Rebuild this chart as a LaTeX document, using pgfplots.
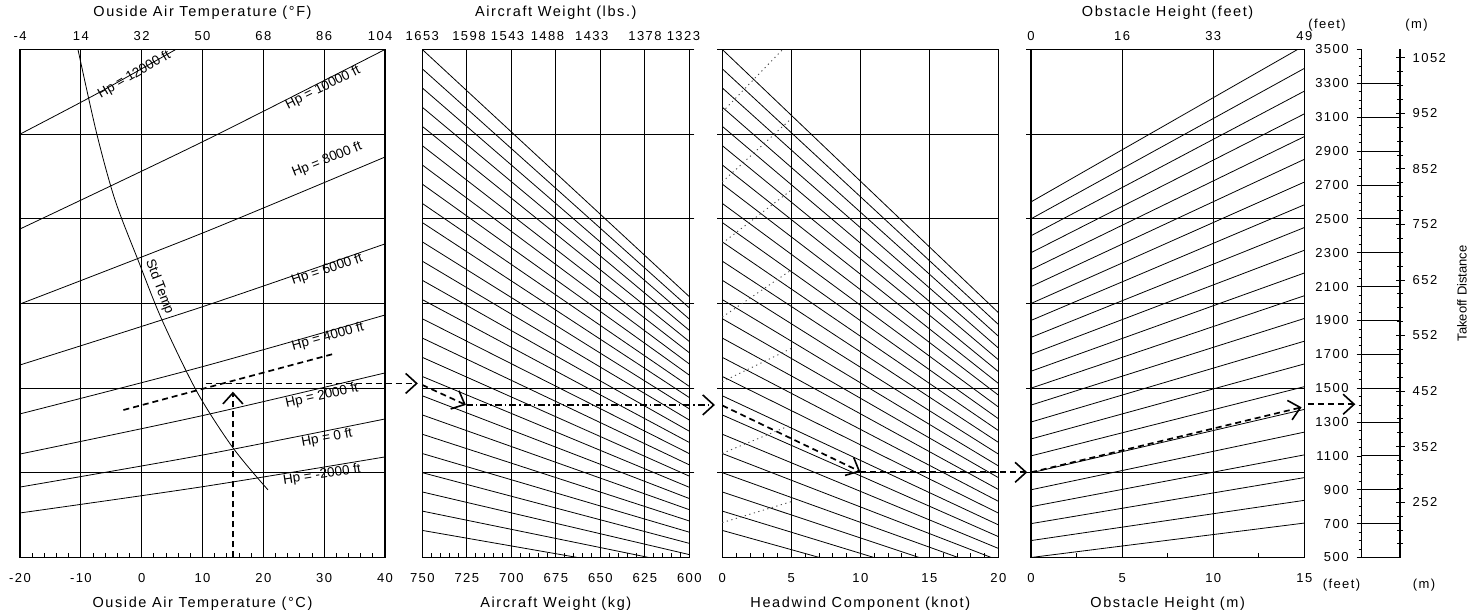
\documentclass[border=0pt]{standalone}
\usepackage{pgfplots}
\pgfplotsset{compat=1.18}
\usetikzlibrary{arrows.meta}
\usepackage{fontspec}
\setmainfont{Liberation Sans}
\newfontfamily\spaced[LetterSpace=11]{Liberation Sans}
\newcommand\tickfont{\spaced\fontsize{13bp}{15bp}\selectfont}
\newcommand\labfont{\spaced\fontsize{14.5bp}{16bp}\selectfont}
\newcommand\curvefont{\rmfamily\fontsize{13.5bp}{15bp}\selectfont}

\tikzset{hplab/.style={font=\curvefont, inner sep=0pt}}
\pgfplotsset{
  panel/.style={
    scale only axis, anchor=south west, height=508bp,
    ymin=500, ymax=3500, clip=false,
    axis line style={black, line width=1.2bp},
    grid style={black, line width=0.75bp},
    xmajorgrids, ymajorgrids,
    ytick={1000,1500,2000,2500,3000}, yticklabels={},
    major tick length=0pt, minor tick length=4.5bp,
    minor tick style={black, line width=0.7bp},
    xtick pos=left,
    tick align=inside,
    xticklabel style={font=\tickfont, anchor=base, yshift=-25bp, inner sep=0pt},
    xlabel style={font=\labfont, at={(rel axis cs:0.5,0)}, anchor=base, yshift=-50bp, inner sep=0pt},
  },
  outticks/.style={
    extra y ticks={1000,1500,2000,2500,3000,3500}, extra y tick labels={},
    extra y tick style={grid=none, tick align=outside, major tick length=5bp, ytick pos=#1,
      tick style={black, line width=0.7bp}},
  },
  topax/.style={
    scale only axis, anchor=south west, height=508bp, ymin=0, ymax=1,
    axis x line*=top, hide y axis, axis line style={black, line width=1.2bp},
    major tick length=0pt,
    xticklabel style={font=\tickfont, anchor=base, yshift=9bp, inner sep=0pt},
    xlabel style={font=\labfont, at={(rel axis cs:0.5,1)}, anchor=base, yshift=32.5bp, inner sep=0pt},
  },
  guide/.style={black, line width=0.8bp},
  dotl/.style={black!70, line width=0.9bp, dash pattern=on 1.2bp off 3.5bp},
  dashl/.style={black, line width=1.7bp, dash pattern=on 6bp off 4bp},
  dasharr/.style={dashl, -{Straight Barb[length=11bp, width=20bp, line width=1.6bp]}},
  dashdotarr/.style={black, line width=1.5bp, dash pattern=on 7bp off 3bp on 1.5bp off 3bp, -{Straight Barb[length=11bp, width=20bp, line width=1.6bp]}},
}

\begin{document}
\begin{tikzpicture}[x=1bp,y=1bp]
\useasboundingbox (0,0) rectangle (1468bp,615bp);

%%%%%%%%%%%%%%%% Panel 1: OAT %%%%%%%%%%%%%%%%
\begin{axis}[panel, at={(20bp,57.5bp)}, width=365bp,
  xmin=-20, xmax=40, xtick={-20,-10,0,10,20,30,40},
  xticklabels={-20,-10,0,10,20,30,40}, minor x tick num=4,
  xlabel={Ouside Air Temperature (°C)}]
\addplot[guide, smooth] coordinates {(-20,763)(10,918)(40,1094)};
\addplot[guide, smooth] coordinates {(-20,916)(10,1105)(40,1318)};
\addplot[guide, smooth] coordinates {(-20,1111)(10,1338)(40,1590)};
\addplot[guide, smooth] coordinates {(-20,1348)(10,1627)(40,1932)};
\addplot[guide, smooth] coordinates {(-20,1637)(10,1981)(40,2352)};
\addplot[guide, smooth] coordinates {(-20,1997)(10,2416)(40,2865)};
\addplot[guide, smooth] coordinates {(-20,2440)(10,2955)(40,3500)};
\addplot[guide, smooth] coordinates {(-20,3000)(-7.2,3242)(5.6,3500)};
% standard temperature
\addplot[guide, smooth] coordinates {(-10.47,3500)(-7.4,3005)(-4.38,2611)(-0.6,2257)(3.34,1903)(9.10,1478)(15.02,1147)(20.77,899)};
\node[hplab, rotate=30] at (axis cs:-1.2,3350) {Hp = 12000 ft};
\node[hplab, rotate=26.3] at (axis cs:29.81,3273) {Hp = 10000 ft};
\node[hplab, rotate=21.9] at (axis cs:30.47,2848) {Hp = 8000 ft};
\node[hplab, rotate=18.3] at (axis cs:30.47,2198) {Hp = 6000 ft};
\node[hplab, rotate=15.2] at (axis cs:30.63,1802) {Hp = 4000 ft};
\node[hplab, rotate=12.5] at (axis cs:29.65,1454) {Hp = 2000 ft};
\node[hplab, rotate=10.6] at (axis cs:30.47,1206) {Hp = 0 ft};
\node[hplab, rotate=8.7] at (axis cs:29.65,987) {Hp = -2000 ft};
\node[hplab, rotate=-69] at (axis cs:2.9,2098) {Std Temp};
% example path
\addplot[dasharr] coordinates {(15,500)(15,1479)};
\addplot[dashl] coordinates {(-3,1371)(31.5,1702)};
\addplot[dasharr] coordinates {(10.5,1528)(45.4,1528)};
\end{axis}
\begin{axis}[topax, at={(20bp,57.5bp)}, width=365bp, xmin=-20, xmax=40,
  xtick={-20,-10,0,10,20,30,39.2}, xticklabels={-4,14,32,50,68,86,104},
  xlabel={Ouside Air Temperature (°F)}]
\end{axis}

%%%%%%%%%%%%%%%% Panel 2: weight %%%%%%%%%%%%%%%%
\begin{axis}[panel, outticks=right, at={(422.3bp,57.5bp)}, width=267bp,
  xmin=600, xmax=750, x dir=reverse, xtick={600,625,650,675,700,725,750},
  xticklabels={600,625,650,675,700,725,750}, minor x tick num=4,
  xlabel={Aircraft Weight (kg)}]
\addplot[guide] coordinates {(750,660)(662.8,500)};
\addplot[guide] coordinates {(750,774)(622.7,500)};
\addplot[guide] coordinates {(750,887)(600,517.1)};
\addplot[guide] coordinates {(750,1001)(600,583.6)};
\addplot[guide] coordinates {(750,1114)(600,649.5)};
\addplot[guide] coordinates {(750,1228)(600,715.9)};
\addplot[guide] coordinates {(750,1342)(600,782.4)};
\addplot[guide] coordinates {(750,1455)(600,848.3)};
\addplot[guide] coordinates {(750,1569)(600,914.7)};
\addplot[guide] coordinates {(750,1682)(600,980.6)};
\addplot[guide] coordinates {(750,1796)(600,1047.1)};
\addplot[guide] coordinates {(750,1910)(600,1113.5)};
\addplot[guide] coordinates {(750,2023)(600,1179.4)};
\addplot[guide] coordinates {(750,2137)(600,1245.9)};
\addplot[guide] coordinates {(750,2250)(600,1311.8)};
\addplot[guide] coordinates {(750,2364)(600,1378.2)};
\addplot[guide] coordinates {(750,2478)(600,1444.7)};
\addplot[guide] coordinates {(750,2591)(600,1510.6)};
\addplot[guide] coordinates {(750,2705)(600,1577.0)};
\addplot[guide] coordinates {(750,2818)(600,1642.9)};
\addplot[guide] coordinates {(750,2932)(600,1709.4)};
\addplot[guide] coordinates {(750,3046)(600,1775.8)};
\addplot[guide] coordinates {(750,3159)(600,1841.7)};
\addplot[guide] coordinates {(750,3273)(600,1908.2)};
\addplot[guide] coordinates {(750,3386)(600,1974.0)};
\addplot[guide] coordinates {(750,3500)(600,2040.5)};
\addplot[dasharr] coordinates {(750,1519)(725.5,1401)};
\addplot[dashdotarr] coordinates {(725.5,1401)(585.6,1401)};
\end{axis}
\begin{axis}[topax, at={(422.3bp,57.5bp)}, width=267bp, xmin=600, xmax=750, x dir=reverse,
  xtick={603.3,624.9,654.8,679.7,702.1,723.8,750},
  xticklabels={1323,1378,1433,1488,1543,1598,1653},
  xlabel={Aircraft Weight (lbs.)}]
\end{axis}

%%%%%%%%%%%%%%%% Panel 3: headwind %%%%%%%%%%%%%%%%
\begin{axis}[panel, outticks=left, at={(722.3bp,57.5bp)}, width=276bp,
  xmin=0, xmax=20, xtick={0,5,10,15,20},
  xticklabels={0,5,10,15,20}, minor x tick num=4,
  xlabel={Headwind Component (knot)}]
\addplot[guide] coordinates {(0,660)(7.04,500)};
\addplot[guide] coordinates {(0,774)(10.99,500)};
\addplot[guide] coordinates {(0,887)(14.27,500)};
\addplot[guide] coordinates {(0,1001)(17.09,500)};
\addplot[guide] coordinates {(0,1114)(19.49,500)};
\addplot[guide] coordinates {(0,1228)(20,553.8)};
\addplot[guide] coordinates {(0,1342)(20,623.6)};
\addplot[guide] coordinates {(0,1455)(20,692.9)};
\addplot[guide] coordinates {(0,1569)(20,762.8)};
\addplot[guide] coordinates {(0,1682)(20,832.1)};
\addplot[guide] coordinates {(0,1796)(20,902.0)};
\addplot[guide] coordinates {(0,1910)(20,971.8)};
\addplot[guide] coordinates {(0,2023)(20,1041.1)};
\addplot[guide] coordinates {(0,2137)(20,1111.0)};
\addplot[guide] coordinates {(0,2250)(20,1180.3)};
\addplot[guide] coordinates {(0,2364)(20,1250.1)};
\addplot[guide] coordinates {(0,2478)(20,1320.0)};
\addplot[guide] coordinates {(0,2591)(20,1389.3)};
\addplot[guide] coordinates {(0,2705)(20,1459.2)};
\addplot[guide] coordinates {(0,2818)(20,1528.4)};
\addplot[guide] coordinates {(0,2932)(20,1598.3)};
\addplot[guide] coordinates {(0,3046)(20,1668.2)};
\addplot[guide] coordinates {(0,3159)(20,1737.5)};
\addplot[guide] coordinates {(0,3273)(20,1807.3)};
\addplot[guide] coordinates {(0,3386)(20,1876.6)};
\addplot[guide] coordinates {(0,3500)(20,1946.5)};
\addplot[dotl] coordinates {(0,3131)(4.37,3500)};
\addplot[dotl] coordinates {(0,2718)(5,3092)};
\addplot[dotl] coordinates {(0,2356)(5,2670)};
\addplot[dotl] coordinates {(0,1920)(5,2198)};
\addplot[dotl] coordinates {(0,1538)(5,1735)};
\addplot[dotl] coordinates {(0,1115)(5,1283)};
\addplot[dotl] coordinates {(0,706)(5,830)};
\addplot[dasharr] coordinates {(0,1398)(10,1007)};
\addplot[dasharr] coordinates {(10,1003)(22.1,1003)};
\end{axis}

%%%%%%%%%%%%%%%% Panel 4: obstacle %%%%%%%%%%%%%%%%
\begin{axis}[panel, outticks=left, at={(1031bp,57.5bp)}, width=273.3bp,
  xmin=0, xmax=15, xtick={0,5,10,15},
  xticklabels={0,5,10,15}, minor x tick num=1,
  xlabel={Obstacle Height (m)}]
\addplot[guide] coordinates {(0,500)(15,703.3)};
\addplot[guide] coordinates {(0,600)(15,837.5)};
\addplot[guide] coordinates {(0,700)(15,971.8)};
\addplot[guide] coordinates {(0,800)(15,1106.0)};
\addplot[guide] coordinates {(0,900)(15,1240.3)};
\addplot[guide] coordinates {(0,1000)(15,1374.5)};
\addplot[guide] coordinates {(0,1100)(15,1508.8)};
\addplot[guide] coordinates {(0,1200)(15,1643.0)};
\addplot[guide] coordinates {(0,1300)(15,1777.3)};
\addplot[guide] coordinates {(0,1400)(15,1911.5)};
\addplot[guide] coordinates {(0,1500)(15,2045.8)};
\addplot[guide] coordinates {(0,1600)(15,2180.0)};
\addplot[guide] coordinates {(0,1700)(15,2314.3)};
\addplot[guide] coordinates {(0,1800)(15,2448.5)};
\addplot[guide] coordinates {(0,1900)(15,2582.8)};
\addplot[guide] coordinates {(0,2000)(15,2717.0)};
\addplot[guide] coordinates {(0,2100)(15,2851.3)};
\addplot[guide] coordinates {(0,2200)(15,2985.5)};
\addplot[guide] coordinates {(0,2300)(15,3119.8)};
\addplot[guide] coordinates {(0,2400)(15,3254.0)};
\addplot[guide] coordinates {(0,2500)(15,3388.3)};
\addplot[guide] coordinates {(0,2600)(14.63,3500)};
\addplot[dasharr] coordinates {(0,1003)(14.85,1387)};
\addplot[dasharr] coordinates {(15.2,1405)(17.8,1405)};
\end{axis}
\begin{axis}[topax, at={(1031bp,57.5bp)}, width=273.3bp, xmin=0, xmax=15,
  xtick={0,5,10,15}, xticklabels={0,16,33,49},
  xlabel={Obstacle Height (feet)}]
\end{axis}

%%%%%%%%%%%%%%%% Panel 5: distance scale %%%%%%%%%%%%%%%%
\begin{axis}[scale only axis, anchor=south west, at={(1361.7bp,57.5bp)},
  width=38.3bp, height=508bp, xmin=0, xmax=1, ymin=500, ymax=3500,
  hide x axis, clip=false,
  axis line style={black, line width=1.2bp},
  ytick={500,700,900,1100,1300,1500,1700,1900,2100,2300,2500,2700,2900,3100,3300,3500},
  yticklabels={500,700,900,1100,1300,1500,1700,1900,2100,2300,2500,2700,2900,3100,3300,3500},
  ytick pos=left, tick align=outside, major tick length=5bp,
  minor y tick num=3, minor tick length=3bp,
  tick style={black, line width=0.7bp},
  yticklabel style={font=\tickfont, anchor=east, inner sep=0pt, xshift=-8bp},
  extra y ticks={500,700,900,1100,1300,1500,1700,1900,2100,2300,2500,2700,2900,3100,3300},
  extra y tick labels={},
  extra y tick style={grid=major, major tick length=0pt},
  grid style={black, line width=0.8bp}]
\node[font=\tickfont] at (rel axis cs:-0.906,1.048) {(feet)};
\node[font=\tickfont] at (rel axis cs:1.431,1.048) {(m)};
\node[font=\tickfont] at (rel axis cs:-0.527,-0.054) {(feet)};
\node[font=\tickfont] at (rel axis cs:1.627,-0.054) {(m)};
\end{axis}
\begin{axis}[scale only axis, anchor=south west, at={(1361.7bp,57.5bp)},
  width=38.3bp, height=508bp, xmin=0, xmax=1, ymin=152.4, ymax=1066.8,
  axis y line*=right, hide x axis,
  axis line style={black, line width=1.2bp},
  ytick={152,252,352,452,552,652,752,852,952,1052},
  yticklabels={152,252,352,452,552,652,752,852,952,1052},
  minor y tick num=3, tick align=center, major tick length=9bp, minor tick length=6bp,
  tick style={black, line width=0.7bp},
  yticklabel style={font=\tickfont, anchor=west, inner sep=0pt, xshift=8bp},
  ylabel={Takeoff Distance},
  every axis y label/.style={at={(rel axis cs:2.62,0.52)}, rotate=90, anchor=center, font=\fontsize{13bp}{15bp}\selectfont}]
\end{axis}
\end{tikzpicture}
\end{document}
